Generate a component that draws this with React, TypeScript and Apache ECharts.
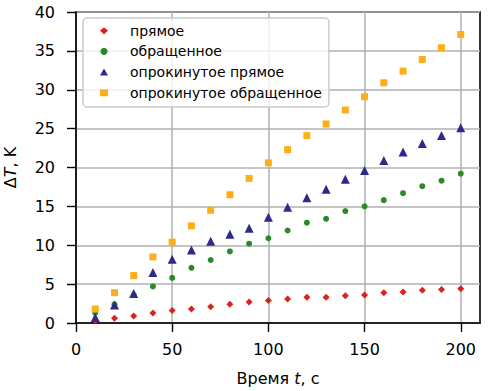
import React, { useEffect, useRef } from "react";
import * as echarts from "echarts";

const times = [10, 20, 30, 40, 50, 60, 70, 80, 90, 100, 110, 120, 130, 140, 150, 160, 170, 180, 190, 200];
const direct = [0.3, 0.6, 0.9, 1.3, 1.6, 1.8, 2.1, 2.4, 2.7, 2.9, 3.1, 3.3, 3.3, 3.5, 3.6, 3.9, 4.0, 4.2, 4.3, 4.4];
const reversed = [1.3, 2.4, 3.6, 4.7, 5.8, 7.1, 8.1, 9.2, 10.2, 10.9, 11.9, 12.9, 13.4, 14.4, 15.0, 15.8, 16.7, 17.6, 18.3, 19.2];
const invDirect = [0.7, 2.3, 3.8, 6.5, 8.2, 9.4, 10.5, 11.4, 12.2, 13.6, 14.9, 16.1, 17.2, 18.5, 19.6, 20.9, 22.0, 23.1, 24.1, 25.1];
const invReversed = [1.8, 3.9, 6.1, 8.5, 10.4, 12.5, 14.5, 16.5, 18.6, 20.6, 22.3, 24.1, 25.6, 27.4, 29.1, 30.9, 32.4, 33.9, 35.4, 37.1];
const seriesNames = ["прямое", "обращенное", "опрокинутое прямое", "опрокинутое обращенное"];
const xTicks = [0, 50, 100, 150, 200];

const FONT = "DejaVu Sans";

export default function App() {
  const ref = useRef<HTMLDivElement>(null);
  useEffect(() => {
    if (!ref.current) return;
    const chart = echarts.init(ref.current, undefined, { renderer: "svg" });
    const mk = (vals: number[]) => times.map((t, i) => [t, vals[i]]);
    const defs = [
      { data: direct, symbol: "diamond", size: 7, color: "#e0201c" },
      { data: reversed, symbol: "circle", size: 6, color: "#2a8a2a" },
      { data: invDirect, symbol: "triangle", size: 9, color: "#2e2a8c" },
      { data: invReversed, symbol: "rect", size: 7, color: "#fbb01b" },
    ];
    const nameStyle = {
      fontFamily: FONT,
      fontSize: 16,
      color: "#000",
      rich: { i: { fontStyle: "italic", fontFamily: FONT, fontSize: 16, color: "#000" } },
    };
    chart.setOption({
      animation: false,
      grid: {
        left: 76,
        top: 12,
        right: 9,
        bottom: 68,
        outerBoundsMode: "none",
        containLabel: false,
        show: true,
        borderColor: "#000",
        borderWidth: 1.6,
        backgroundColor: "transparent",
      },
      xAxis: {
        type: "value",
        min: 0,
        max: 210,
        interval: 50,
        name: "Время {i|t}, с",
        nameLocation: "middle",
        nameGap: 47,
        nameTextStyle: nameStyle,
        axisLine: { show: true, lineStyle: { color: "#000", width: 1.6 } },
        axisTick: { show: true, length: 9, lineStyle: { color: "#000", width: 1.4 }, customValues: xTicks },
        axisLabel: { fontFamily: FONT, fontSize: 16, color: "#000", margin: 18, customValues: xTicks },
        splitLine: { show: true, lineStyle: { color: "#b0b0b0", width: 1.5 } },
      },
      yAxis: {
        type: "value",
        min: 0,
        max: 40,
        interval: 5,
        name: "Δ{i|T}, K",
        nameLocation: "middle",
        nameGap: 58,
        nameRotate: 90,
        nameTextStyle: nameStyle,
        axisLine: { show: true, lineStyle: { color: "#000", width: 1.6 } },
        axisTick: { show: true, length: 9, lineStyle: { color: "#000", width: 1.4 } },
        axisLabel: { fontFamily: FONT, fontSize: 16, color: "#000", margin: 21 },
        splitLine: { show: true, lineStyle: { color: "#b0b0b0", width: 1.5 } },
      },
      legend: {
        orient: "vertical",
        left: 83,
        top: 18,
        padding: [5.7, 7, 7.2, 17],
        itemWidth: 8,
        itemHeight: 7,
        itemGap: 6.7,
        backgroundColor: "rgba(255,255,255,0.8)",
        borderColor: "#cccccc",
        borderWidth: 1.5,
        borderRadius: 4,
        textStyle: {
          fontFamily: FONT,
          fontSize: 14,
          color: "#000",
          lineHeight: 14,
          padding: [0, 0, 0, 17],
        },
        data: seriesNames,
      },
      series: defs.map((d, i) => ({
        name: seriesNames[i],
        type: "scatter",
        symbol: d.symbol,
        symbolSize: d.size,
        itemStyle: { color: d.color, opacity: 1 },
        data: mk(d.data),
        z: 3 + i * 0.01,
      })),
    });
    return () => chart.dispose();
  }, []);
  return (
    <div
      ref={ref}
      style={{ position: "absolute", left: 0, top: 0, width: 489, height: 391, background: "#fff" }}
    />
  );
}
